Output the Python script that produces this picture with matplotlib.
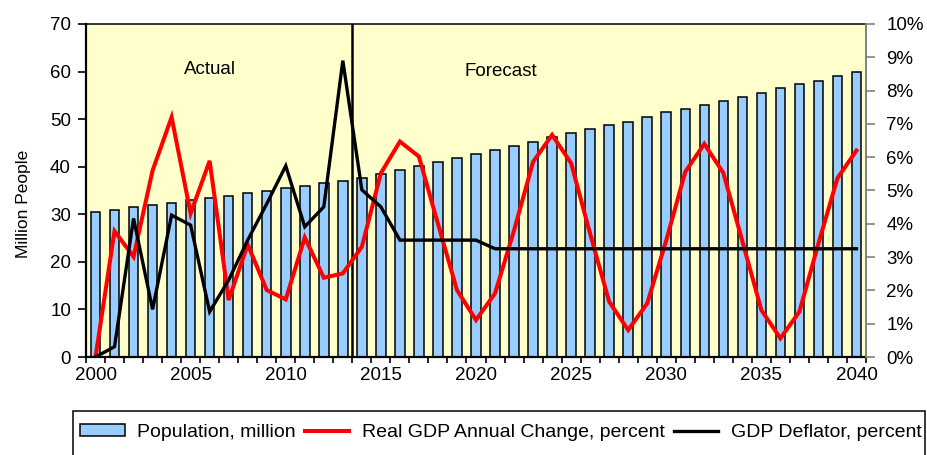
import matplotlib
matplotlib.use("Agg")
import matplotlib.pyplot as plt
from matplotlib.patches import Rectangle
from matplotlib.ticker import FuncFormatter
import numpy as np

plt.rcParams['font.family'] = ['Liberation Sans', 'DejaVu Sans']

years = list(range(2000, 2041))
population = [30.5, 30.9, 31.5, 31.9, 32.4, 32.9, 33.4, 33.8, 34.4, 34.9,
              35.5, 35.9, 36.5, 37.0, 37.6, 38.5, 39.3, 40.1, 41.0, 41.8,
              42.7, 43.5, 44.4, 45.3, 46.2, 47.1, 47.9, 48.7, 49.5, 50.5,
              51.4, 52.2, 53.0, 53.9, 54.7, 55.6, 56.5, 57.3, 58.1, 59.1,
              59.9]
real_gdp = [0.0, 3.78, 3.01, 5.6, 7.2, 4.31, 5.89, 1.71, 3.38, 2.01,
            1.73, 3.59, 2.38, 2.51, 3.31, 5.52, 6.47, 6.02, 4.0, 2.01,
            1.11, 1.91, 3.8, 5.86, 6.67, 5.82, 3.7, 1.66, 0.81, 1.61,
            3.5, 5.56, 6.4, 5.53, 3.48, 1.41, 0.56, 1.36, 3.41, 5.37,
            6.2]
deflator = [0.0, 0.31, 4.16, 1.43, 4.26, 3.96, 1.36, 2.31, 3.51, 4.6,
            5.74, 3.91, 4.51, 8.9, 5.02, 4.51, 3.51, 3.51, 3.51, 3.51,
            3.51, 3.25, 3.25, 3.25, 3.25, 3.25, 3.25, 3.25, 3.25, 3.25,
            3.25, 3.25, 3.25, 3.25, 3.25, 3.25, 3.25, 3.25, 3.25, 3.25,
            3.25]
last_actual = 2013

W, H = 927, 455
fig = plt.figure(figsize=(W / 100, H / 100), dpi=100)
ax = fig.add_axes([86 / W, 1 - 357 / H, 780 / W, 333 / H])
ax.set_facecolor('#FFFFCC')

bars = ax.bar(years, population, width=0.5, color='#99CCFF',
              edgecolor='black', linewidth=1.1, zorder=2,
              label='Population, million')
ax.axvline(last_actual + 0.5, color='black', lw=1.8, zorder=3)

ax.set_xlim(1999.5, 2040.5)
ax.set_ylim(0, 70)
ax.set_yticks(range(0, 71, 10))
ax.set_xticks(range(2000, 2041, 5))
ax.set_xticks(np.arange(1999.5, 2041, 1), minor=True)
ax.tick_params(axis='x', which='major', length=0, pad=7, labelsize=13.5)
ax.tick_params(axis='x', which='minor', length=4.5, width=1.2, direction='out')
ax.tick_params(axis='y', length=5.8, width=1.2, direction='out', pad=5,
               labelsize=13.5)

for side in ('left', 'bottom'):
    ax.spines[side].set_linewidth(1.6)
ax.spines['top'].set_linewidth(1.1)
ax.spines['right'].set_visible(False)

ax.set_ylabel('Million People', fontsize=12.5)
ax.yaxis.set_label_coords(-0.07, 0.46)

ax.text(2006, 59.5, 'Actual', ha='center', va='baseline', fontsize=13.5)
ax.text(2021.3, 59.1, 'Forecast', ha='center', va='baseline', fontsize=13.5)

ax2 = ax.twinx()
ax2.set_ylim(0, 10)
ax2.set_yticks(range(0, 11))
ax2.yaxis.set_major_formatter(FuncFormatter(lambda v, p: f'{v:.0f}%'))
ax2.tick_params(axis='y', length=6.5, width=1.2, direction='out', pad=8,
                labelsize=13.5, color='#808080')
for side in ('left', 'top', 'bottom'):
    ax2.spines[side].set_visible(False)
ax2.spines['right'].set_color('#808080')
ax2.spines['right'].set_linewidth(1.4)

red, = ax2.plot(years, real_gdp, color='#FF0000', lw=2.9,
                solid_joinstyle='miter', label='Real GDP Annual Change, percent')
blk, = ax2.plot(years, deflator, color='black', lw=2.4,
                solid_joinstyle='miter', label='GDP Deflator, percent')

# legend box runs past the bottom edge of the figure
fig.patches.append(Rectangle((73 / W, -0.05), 852 / W, 1 - 411 / H + 0.05,
                             transform=fig.transFigure, fill=False,
                             edgecolor='black', linewidth=1.1))
fig.legend([bars, red, blk],
           ['Population, million', 'Real GDP Annual Change, percent',
            'GDP Deflator, percent'],
           loc='upper left', bbox_to_anchor=(80 / W, 1 - 424 / H),
           ncol=3, frameon=False, fontsize=14, borderpad=0, borderaxespad=0,
           handlelength=2.3, handleheight=0.55, handletextpad=0.65,
           columnspacing=0.45)

fig.savefig('out.png', dpi=100)
